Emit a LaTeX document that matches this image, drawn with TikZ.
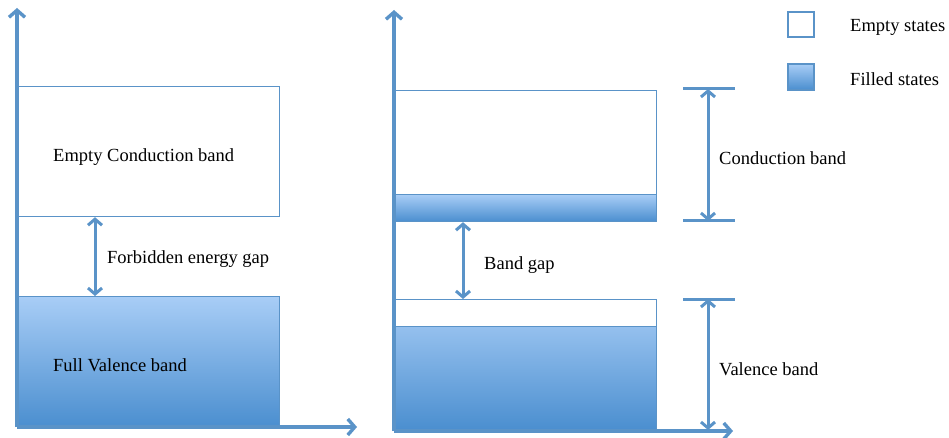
\documentclass[tikz,border=0pt]{standalone}
\usepackage{fontspec}
\setmainfont{Liberation Serif}
\usetikzlibrary{arrows.meta}
\definecolor{bandline}{HTML}{5A93C8}
\definecolor{filltop}{HTML}{A8CDF6}
\definecolor{fillbot}{HTML}{4A8ECF}
\tikzset{
  box/.style={draw=bandline, line width=1.2pt, fill=white, inner sep=0pt, anchor=north west},
  filledbox/.style={box, top color=filltop, bottom color=fillbot},
  legbox/.style={box, line width=2pt},
  axis/.style={draw=bandline, line width=3.6pt, -{Straight Barb[length=7pt,width=16pt,line width=3.4pt]}},
  dimarrow/.style={draw=bandline, line width=3pt, {Straight Barb[length=6pt,width=14pt,line width=3pt]}-{Straight Barb[length=6pt,width=14pt,line width=3pt]}},
  tick/.style={draw=bandline, line width=3pt},
  lbl/.style={font=\fontsize{18.5}{22}\selectfont, anchor=west, inner sep=0pt}
}
\begin{document}
\begin{tikzpicture}[x=1pt,y=-1pt]
\useasboundingbox (0,0) rectangle (949,438);

% ---- left: insulator ----
\node[box, minimum width=262pt, minimum height=130pt] (lcb) at (17,86) {};
\node[filledbox, minimum width=262pt, minimum height=131pt] (lvb) at (17,296) {};
\coordinate (lorigin) at (17,427);
\coordinate (lytop) at (17,8);
\coordinate (lxend) at (357,427);
\draw[axis] (lorigin) -- (lytop);
\draw[axis] (lorigin) -- (lxend);
\draw[dimarrow] ([xshift=78pt]lcb.south west) -- ([xshift=78pt]lvb.north west);
\node[lbl] (lcbtxt) at (53,157) {Empty Conduction band};
\node[lbl] (lgap) at (107,259) {Forbidden energy gap};
\node[lbl] (lvbtxt) at (53,365) {Full Valence band};

% ---- right: semiconductor ----
\node[box, minimum width=262pt, minimum height=131pt] (rcb) at (394,90) {};
\node[filledbox, minimum width=262pt, minimum height=27pt] (rcbfill) at (394,194) {};
\node[filledbox, minimum width=262pt, minimum height=131pt] (rvb) at (394,299) {};
\node[box, minimum width=262pt, minimum height=27pt] (rvbempty) at (394,299) {};
\coordinate (rorigin) at (394,431);
\coordinate (rytop) at (394,10);
\coordinate (rxend) at (733,431);
\draw[axis] (rorigin) -- (rytop);
\draw[axis] (rorigin) -- (rxend);
\draw[dimarrow] ([xshift=69pt]rcbfill.south west) -- ([xshift=69pt]rvb.north west);
\node[lbl] (rgap) at (484,265) {Band gap};

% dimension marks on the right
\coordinate (t1a) at (683,89);  \coordinate (t1b) at (735,89);
\coordinate (t2a) at (683,221); \coordinate (t2b) at (735,221);
\coordinate (t3a) at (683,299); \coordinate (t3b) at (735,299);
\coordinate (c1) at (708,89);  \coordinate (c2) at (708,221);
\coordinate (c3) at (708,299); \coordinate (c4) at (708,430);
\draw[tick] (t1a) -- (t1b);
\draw[tick] (t2a) -- (t2b);
\draw[tick] (t3a) -- (t3b);
\draw[dimarrow] (c1) -- (c2);
\draw[dimarrow] (c3) -- (c4);
\node[lbl] (cbtxt) at (719,158) {Conduction band};
\node[lbl] (vbtxt) at (719,369) {Valence band};

% ---- legend ----
\node[legbox, minimum width=26pt, minimum height=25pt] (legempty) at (787,11) {};
\node[legbox, top color=filltop, bottom color=fillbot, minimum width=26pt, minimum height=26pt] (legfill) at (787,63) {};
\node[lbl] (emptytxt) at (850,27) {Empty states};
\node[lbl] (filltxt) at (850,79) {Filled states};
\end{tikzpicture}
\end{document}
